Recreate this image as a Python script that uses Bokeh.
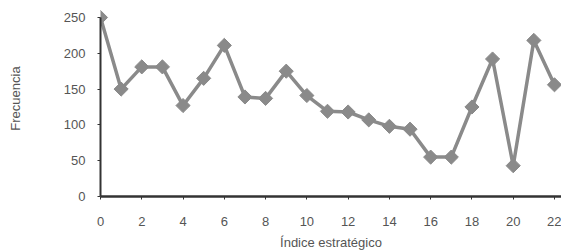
import math
from bokeh.plotting import figure
from bokeh.models import Range1d, FixedTicker
from bokeh.embed import file_html
from bokeh.resources import INLINE

indice = list(range(23))
frecuencia = [250, 150, 181, 181, 127, 165, 211, 139, 137, 175, 141, 119, 118, 107,
              98, 94, 55, 55, 125, 192, 43, 218, 156]
x_ticks = list(range(0, 23, 2))
y_ticks = [0, 50, 100, 150, 200, 250]

p = figure(width=561, height=252, output_backend="svg", toolbar_location=None,
           x_range=Range1d(0, 22.34), y_range=Range1d(0, 273.7),
           min_border_top=0, min_border_right=0, min_border_left=100, min_border_bottom=0)
p.outline_line_color = None
p.grid.visible = False
p.background_fill_color = "white"
p.border_fill_color = "white"

col = "#8a8a8a"
p.line(indice, frecuencia, line_color=col, line_width=3.5)
p.scatter(indice, frecuencia, marker="square", angle=math.pi / 4, size=10,
          fill_color=col, line_color=col)

font = "Liberation Sans"
for ax in (p.xaxis[0], p.yaxis[0]):
    ax.major_label_text_font = font
    ax.major_label_text_font_size = "13px"
    ax.major_label_text_color = "#555555"
    ax.axis_label_text_font = font
    ax.axis_label_text_font_size = "13px"
    ax.axis_label_text_font_style = "normal"
    ax.axis_label_text_color = "#555555"
    ax.axis_line_color = "#333333"
    ax.major_tick_line_color = "#333333"
    ax.major_tick_out = 3
    ax.major_tick_in = 0
    ax.minor_tick_line_color = None

p.xaxis.ticker = FixedTicker(ticks=x_ticks)
p.yaxis.ticker = FixedTicker(ticks=y_ticks)
p.yaxis.bounds = (0, 250)
p.xaxis.axis_line_width = 2.5
p.yaxis.axis_line_width = 2
p.xaxis.axis_label = "Índice estratégico"
p.yaxis.axis_label = "Frecuencia"
p.xaxis.major_label_standoff = 17
p.xaxis.axis_label_standoff = 6
p.yaxis.major_label_standoff = 12
p.yaxis.axis_label_standoff = 38

open("out.html", "w").write(file_html(p, INLINE))
